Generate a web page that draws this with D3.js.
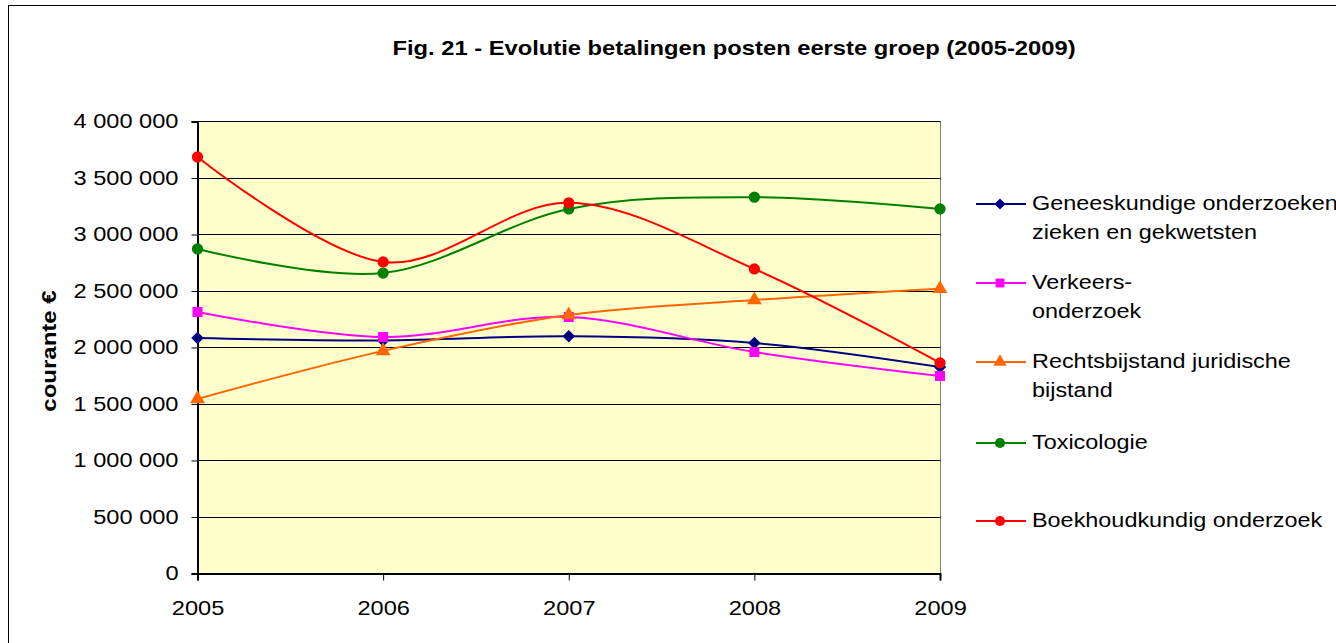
<!DOCTYPE html>
<html lang="nl">
<head>
<meta charset="UTF-8">
<title>Fig. 21 - Evolutie betalingen posten eerste groep (2005-2009)</title>
<style>
    html, body {
        margin: 0;
        padding: 0;
        background-color: #FFFFFF;
        font-family: Arial, 'Liberation Sans', sans-serif;
        overflow: hidden;
    }
    text {
        font-family: Arial, 'Liberation Sans', sans-serif;
        fill: #000000;
    }
</style>
</head>
<body>
<div id="graph"></div>
<script src="https://d3js.org/d3.v7.min.js"></script>
<script>
    const years = ["2005", "2006", "2007", "2008", "2009"];
    const yTicks = [0, 500000, 1000000, 1500000, 2000000, 2500000, 3000000, 3500000, 4000000];

    const geneeskundige = [2084000, 2063000, 2100000, 2040000, 1827000];
    const verkeers = [2314000, 2093000, 2270000, 1960000, 1748000];
    const rechtsbijstand = [1545000, 1970000, 2288000, 2420000, 2520000];
    const toxicologie = [2872000, 2659000, 3226000, 3330000, 3226000];
    const boekhoudkundig = [3686000, 2757000, 3280000, 2695000, 1864000];

    const seriesNames = [
        ["Geneeskundige onderzoeken", "zieken en gekwetsten"],
        ["Verkeers-", "onderzoek"],
        ["Rechtsbijstand juridische", "bijstand"],
        ["Toxicologie"],
        ["Boekhoudkundig onderzoek"]
    ];
    const seriesValues = [geneeskundige, verkeers, rechtsbijstand, toxicologie, boekhoudkundig];
    const seriesColours = ["#000080", "#FF00FF", "#FF6600", "#008000", "#FF0000"];
    const seriesSymbols = [d3.symbolSquare, d3.symbolSquare, d3.symbolTriangle, d3.symbolCircle, d3.symbolCircle];
    const symbolRotate = [45, 0, 0, 0, 0];
    const symbolSizes = [78, 100, 95, 100, 100];

    const W = 1336, H = 643;
    const plot = {left: 197.5, right: 940.5, top: 121.5, bottom: 573.5};

    // the reference text renders wider than Arial, stretch it
    function stretch(sel, k) {
        sel.each(function() {
            const len = this.getComputedTextLength();
            d3.select(this)
                .attr("textLength", len * k)
                .attr("lengthAdjust", "spacingAndGlyphs");
        });
    }

    const svg = d3.select("#graph")
        .append("svg")
        .attr("width", W)
        .attr("height", H);

    // outer frame
    svg.append("rect")
        .attr("x", 8.5).attr("y", 5.5)
        .attr("width", 1500).attr("height", 800)
        .attr("fill", "#FFFFFF")
        .attr("stroke", "#000000")
        .attr("stroke-width", 1);

    const x = d3.scalePoint()
        .domain(years)
        .range([plot.left, plot.right - 0.5]);

    const y = d3.scaleLinear()
        .domain([0, 4000000])
        .range([plot.bottom, plot.top]);

    // plot area
    svg.append("rect")
        .attr("x", plot.left).attr("y", plot.top)
        .attr("width", plot.right - plot.left)
        .attr("height", plot.bottom - plot.top)
        .attr("fill", "#FFFFCC")
        .attr("stroke", "#808080")
        .attr("stroke-width", 1);

    // gridlines
    svg.append("g")
        .selectAll("line")
        .data(yTicks.filter(d => d > 0))
        .enter()
        .append("line")
        .attr("x1", plot.left).attr("x2", plot.right)
        .attr("y1", d => Math.floor(y(d)) + 0.5)
        .attr("y2", d => Math.floor(y(d)) + 0.5)
        .attr("stroke", "#000000")
        .attr("stroke-width", 1);

    const fmt = d => d3.format(",")(d).replace(/,/g, " ");

    // y axis
    const yAxis = svg.append("g")
        .attr("transform", `translate(${plot.left},0)`)
        .call(d3.axisLeft(y).tickValues(yTicks).tickFormat(fmt).tickSize(6).tickPadding(13));
    yAxis.select(".domain").attr("stroke", "#000000").attr("stroke-width", 2);
    yAxis.selectAll(".tick line").attr("stroke", "#000000");
    yAxis.selectAll("text")
        .attr("font-family", null)
        .style("font-size", "20px")
        .attr("fill", "#000000")
        .call(stretch, 1.18);

    // x axis
    const xAxis = svg.append("g")
        .attr("transform", `translate(0,${plot.bottom})`)
        .call(d3.axisBottom(x).tickSize(7).tickPadding(20));
    xAxis.select(".domain").attr("stroke", "#000000").attr("stroke-width", 2);
    xAxis.selectAll(".tick line").attr("stroke", "#000000");
    xAxis.selectAll("text")
        .attr("font-family", null)
        .style("font-size", "20px")
        .attr("fill", "#000000")
        .call(stretch, 1.18);

    // title
    svg.append("text")
        .attr("x", 734)
        .attr("y", 55)
        .attr("text-anchor", "middle")
        .style("font-size", "21px")
        .style("font-weight", "bold")
        .text("Fig. 21 - Evolutie betalingen posten eerste groep (2005-2009)")
        .call(stretch, 1.13);

    // y axis title
    svg.append("text")
        .attr("transform", "translate(56,351) rotate(-90)")
        .attr("text-anchor", "middle")
        .style("font-size", "20px")
        .style("font-weight", "bold")
        .text("courante €")
        .call(stretch, 1.2);

    const line = d3.line()
        .x((d, i) => x(years[i]))
        .y(d => y(d))
        .curve(d3.curveCardinal.tension(0));

    seriesValues.forEach((vals, s) => {
        svg.append("path")
            .datum(vals)
            .attr("d", line)
            .attr("fill", "none")
            .attr("stroke", seriesColours[s])
            .attr("stroke-width", 2);
    });

    seriesValues.forEach((vals, s) => {
        svg.append("g")
            .selectAll("path")
            .data(vals)
            .enter()
            .append("path")
            .attr("transform", (d, i) => `translate(${x(years[i])},${y(d)}) rotate(${symbolRotate[s]})`)
            .attr("d", d3.symbol().type(seriesSymbols[s]).size(symbolSizes[s]))
            .attr("fill", seriesColours[s]);
    });

    // legend
    const legendY = [204, 283, 362, 443, 521];
    const legend = svg.append("g");
    seriesNames.forEach((lines, s) => {
        const g = legend.append("g").attr("transform", `translate(0,${legendY[s]})`);
        g.append("line")
            .attr("x1", 976).attr("x2", 1026)
            .attr("y1", 0).attr("y2", 0)
            .attr("stroke", seriesColours[s])
            .attr("stroke-width", 2);
        g.append("path")
            .attr("transform", `translate(1000,0) rotate(${symbolRotate[s]})`)
            .attr("d", d3.symbol().type(seriesSymbols[s]).size(symbolSizes[s] * 0.8))
            .attr("fill", seriesColours[s]);
        g.selectAll("text")
            .data(lines)
            .enter()
            .append("text")
            .attr("x", 1032)
            .attr("y", (d, i) => 6 + i * 29)
            .style("font-size", "20px")
            .text(d => d)
            .call(stretch, 1.17);
    });
</script>
</body>
</html>
